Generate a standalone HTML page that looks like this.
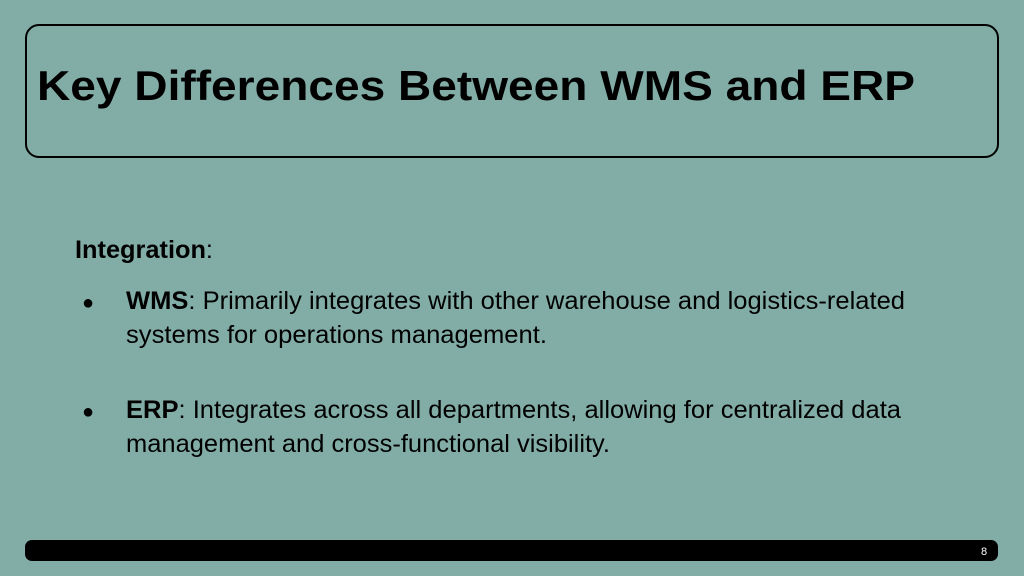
<!DOCTYPE html>
<html><head><style>
html,body{margin:0;padding:0;background:#82ada7;}
svg{display:block}
text{font-family:"Liberation Sans",Arial,sans-serif;fill:#000}
</style></head><body>
<svg width="1024" height="576" viewBox="0 0 1024 576">
<rect x="0" y="0" width="1024" height="576" fill="#82ada7"/>
<rect x="26" y="25" width="972" height="132" rx="13" fill="none" stroke="#000" stroke-width="2"/>
<text x="37" y="100" font-size="42" font-weight="bold" textLength="878" lengthAdjust="spacingAndGlyphs">Key Differences Between WMS and ERP</text>
<text x="75" y="258" font-size="25" textLength="138" lengthAdjust="spacingAndGlyphs"><tspan font-weight="bold">Integration</tspan>:</text>
<text x="82" y="309" font-size="20">●</text>
<text x="126" y="309" font-size="25" textLength="779" lengthAdjust="spacingAndGlyphs"><tspan font-weight="bold">WMS</tspan>: Primarily integrates with other warehouse and logistics-related</text>
<text x="126" y="343" font-size="25" textLength="421" lengthAdjust="spacingAndGlyphs">systems for operations management.</text>
<text x="82" y="418" font-size="20">●</text>
<text x="126" y="418" font-size="25" textLength="775" lengthAdjust="spacingAndGlyphs"><tspan font-weight="bold">ERP</tspan>: Integrates across all departments, allowing for centralized data</text>
<text x="126" y="452" font-size="25" textLength="484" lengthAdjust="spacingAndGlyphs">management and cross-functional visibility.</text>
<rect x="25" y="540" width="973" height="21" rx="7" fill="#000"/>
<text x="981" y="555" font-size="11" style="fill:#fff">8</text>
</svg>
</body></html>
